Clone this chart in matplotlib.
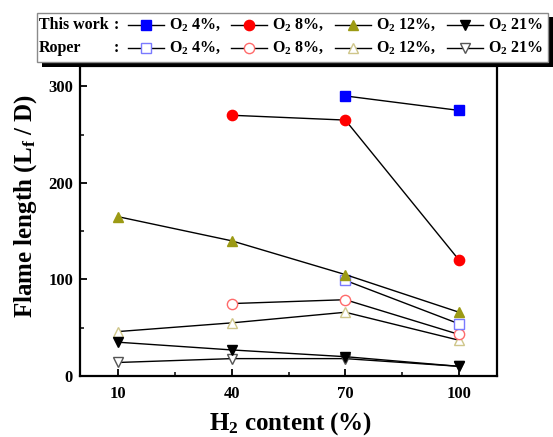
import matplotlib
matplotlib.use("Agg")
import matplotlib.pyplot as plt
from matplotlib.patches import Rectangle
from matplotlib.lines import Line2D
from matplotlib.ticker import MultipleLocator

plt.rcParams['font.family'] = 'Liberation Serif'
plt.rcParams['font.weight'] = 'bold'
plt.rcParams['axes.labelweight'] = 'bold'
plt.rcParams['mathtext.fontset'] = 'custom'
plt.rcParams['mathtext.rm'] = 'Liberation Serif:bold'
plt.rcParams['mathtext.it'] = 'Liberation Serif:italic:bold'
plt.rcParams['mathtext.bf'] = 'Liberation Serif:bold'
plt.rcParams['mathtext.default'] = 'rm'

# data
h2 = [10, 40, 70, 100]
tw_o2_4_x = [70, 100]
tw_o2_4 = [290, 275]
tw_o2_8_x = [40, 70, 100]
tw_o2_8 = [270, 265, 120]
tw_o2_12 = [165, 140, 105, 66]
tw_o2_21 = [35, 27, 20, 10]

rp_o2_4_x = [70, 100]
rp_o2_4 = [99, 54]
rp_o2_8_x = [40, 70, 100]
rp_o2_8 = [75, 79, 43]
rp_o2_12 = [46, 55, 66, 37]
rp_o2_21 = [14, 18, 18, 10]

W, H = 553, 437
fig = plt.figure(figsize=(W / 100, H / 100), dpi=100)
ax = fig.add_axes([80 / W, 1 - 376 / H, (497 - 80) / W, (376 - 66) / H])

olive = '#9c9a14'
ms = 7.4
# (x, y, marker, face, edge)
series = [
    (h2, rp_o2_21, 'v', 'white', '#555555'),
    (h2, rp_o2_12, '^', 'white', '#cfc68a'),
    (rp_o2_8_x, rp_o2_8, 'o', 'white', '#ff6a6a'),
    (rp_o2_4_x, rp_o2_4, 's', 'white', '#7a7aff'),
    (h2, tw_o2_21, 'v', 'black', 'black'),
    (h2, tw_o2_12, '^', olive, olive),
    (tw_o2_8_x, tw_o2_8, 'o', 'red', 'red'),
    (tw_o2_4_x, tw_o2_4, 's', 'blue', 'blue'),
]
for xs, ys, mk, fc, ec in series:
    ax.plot(xs, ys, color='black', lw=1.0, marker=mk, ms=ms,
            mfc=fc, mec=ec, mew=1.0)

ax.set_xlim(0, 110)
ax.set_ylim(0, 321)
ax.set_xticks(h2)
ax.set_xticks([25, 55, 85], minor=True)
ax.set_yticks([0, 100, 200, 300])
ax.yaxis.set_minor_locator(MultipleLocator(50))
ax.tick_params(which='major', direction='in', length=5, width=1.3, labelsize=12)
ax.tick_params(which='minor', direction='in', length=3, width=1.1)
ax.tick_params(axis='y', pad=5)
ax.tick_params(axis='x', pad=7)
for s in ax.spines.values():
    s.set_linewidth(1.6)

ax.set_xlabel('H$_2$ content (%)', fontsize=18)
ax.set_ylabel('Flame length (L$_f$ / D)', fontsize=18)
ax.xaxis.set_label_coords(0.505, -0.11)
ax.yaxis.set_label_coords(-0.098, 0.55)


# legend drawn by hand in figure pixel coordinates
def fx(x):
    return x / W


def fy(y):
    return 1 - y / H


tr = fig.transFigure
fig.add_artist(Rectangle((fx(42), fy(67)), fx(553) - fx(42), fy(62) - fy(67),
                         facecolor='black', edgecolor='none', transform=tr, zorder=10))
fig.add_artist(Rectangle((fx(548), fy(67)), fx(553) - fx(548), fy(17) - fy(67),
                         facecolor='black', edgecolor='none', transform=tr, zorder=10))
fig.add_artist(Rectangle((fx(37), fy(62)), fx(548) - fx(37), fy(13) - fy(62),
                         facecolor='white', edgecolor='#8a8a8a', lw=1.0,
                         transform=tr, zorder=11))

rows = [
    (25, 'This work', [('s', 'blue', 'blue'), ('o', 'red', 'red'),
                       ('^', olive, olive), ('v', 'black', 'black')]),
    (48, 'Roper', [('s', 'white', '#7a7aff'), ('o', 'white', '#ff6a6a'),
                   ('^', 'white', '#cfc68a'), ('v', 'white', '#555555')]),
]
labels = ['O$_2$ 4%,', 'O$_2$ 8%,', 'O$_2$ 12%,', 'O$_2$ 21%']
line_x = [128, 231, 335, 447]
fs = 11.5
for ry, name, marks in rows:
    fig.text(fx(39), fy(ry), name, fontsize=fs, va='center', ha='left', zorder=12)
    fig.text(fx(114), fy(ry), ':', fontsize=fs, va='center', ha='left', zorder=12)
    for lx, (mk, fc, ec), lab in zip(line_x, marks, labels):
        fig.add_artist(Line2D([fx(lx), fx(lx + 36)], [fy(ry), fy(ry)], color='black',
                              lw=1.0, transform=tr, zorder=12))
        fig.add_artist(Line2D([fx(lx + 18)], [fy(ry)], marker=mk, ms=ms, mfc=fc,
                              mec=ec, mew=1.0, transform=tr, zorder=13))
        fig.text(fx(lx + 41), fy(ry), lab, fontsize=fs, va='center', ha='left',
                 zorder=12)

fig.savefig('out.png', dpi=100)
